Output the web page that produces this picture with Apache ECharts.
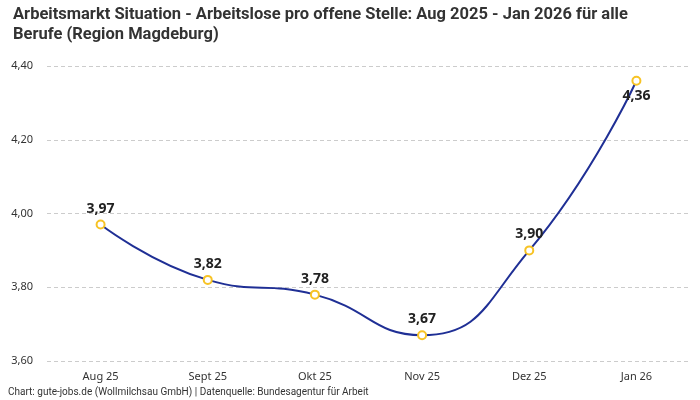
<!DOCTYPE html>
<html>
<head>
<meta charset="utf-8">
<script src="https://cdn.jsdelivr.net/npm/echarts@6/dist/echarts.min.js"></script>
<style>
    html, body { margin: 0; padding: 0; background: #fff; }
    #chart { width: 700px; height: 400px; }
</style>
</head>
<body>
<div id="chart"></div>
<script>
    // Daten
    let months = ['Aug 25', 'Sept 25', 'Okt 25', 'Nov 25', 'Dez 25', 'Jan 26'];
    let values = [3.97, 3.82, 3.78, 3.67, 3.90, 4.36];
    let yTicks = [3.60, 3.80, 4.00, 4.20, 4.40];

    let fontFamily = 'Noto Sans, sans-serif';
    let titleFont = 'Roboto, sans-serif';
    let chart = echarts.init(document.getElementById('chart'));

    let seriesData = values.map(function (v, i) {
        let item = {value: v};
        // letzter Punkt: Label unterhalb
        if (i === values.length - 1) {
            item.label = {position: 'bottom', distance: 3};
        }
        return item;
    });

    let option = {
        backgroundColor: '#fff',
        animation: false,
        title: {
            text: 'Arbeitsmarkt Situation - Arbeitslose pro offene Stelle: Aug 2025 - Jan 2026 für alle\nBerufe (Region Magdeburg)',
            left: 8,
            top: 0,
            textStyle: {
                fontFamily: titleFont,
                fontSize: 16.5,
                fontWeight: 'bold',
                color: '#333',
                lineHeight: 20
            }
        },
        graphic: [{
            type: 'text',
            left: 8,
            top: 387,
            style: {
                text: 'Chart: gute-jobs.de (Wollmilchsau GmbH) | Datenquelle: Bundesagentur für Arbeit',
                font: '10px ' + titleFont,
                fill: '#333'
            }
        }],
        grid: {
            left: 47,
            right: 10,
            top: 66,
            bottom: 39
        },
        xAxis: {
            type: 'category',
            data: months,
            boundaryGap: true,
            axisLine: {show: false},
            axisTick: {show: false},
            axisLabel: {
                fontFamily: fontFamily,
                fontSize: 11,
                color: '#333',
                margin: 10
            }
        },
        yAxis: {
            type: 'value',
            min: yTicks[0],
            max: yTicks[yTicks.length - 1],
            interval: 0.2,
            axisLine: {show: false},
            axisTick: {show: false},
            axisLabel: {
                fontFamily: fontFamily,
                fontSize: 11,
                color: '#333',
                margin: 14,
                formatter: function (v) {
                    return v.toFixed(2).replace('.', ',');
                }
            },
            splitLine: {
                lineStyle: {color: '#ccc', type: [4, 3], width: 1}
            }
        },
        series: [{
            type: 'line',
            data: seriesData,
            smooth: 0.5,
            symbol: 'circle',
            symbolSize: 8,
            lineStyle: {color: '#1f2f95', width: 2},
            itemStyle: {color: '#fff', borderColor: '#f7c325', borderWidth: 2},
            label: {
                show: true,
                position: 'top',
                distance: 4,
                fontFamily: fontFamily,
                fontSize: 14,
                fontWeight: 'bold',
                color: '#222',
                formatter: function (p) {
                    return p.value.toFixed(2).replace('.', ',');
                }
            }
        }]
    };

    chart.setOption(option);
</script>
</body>
</html>
